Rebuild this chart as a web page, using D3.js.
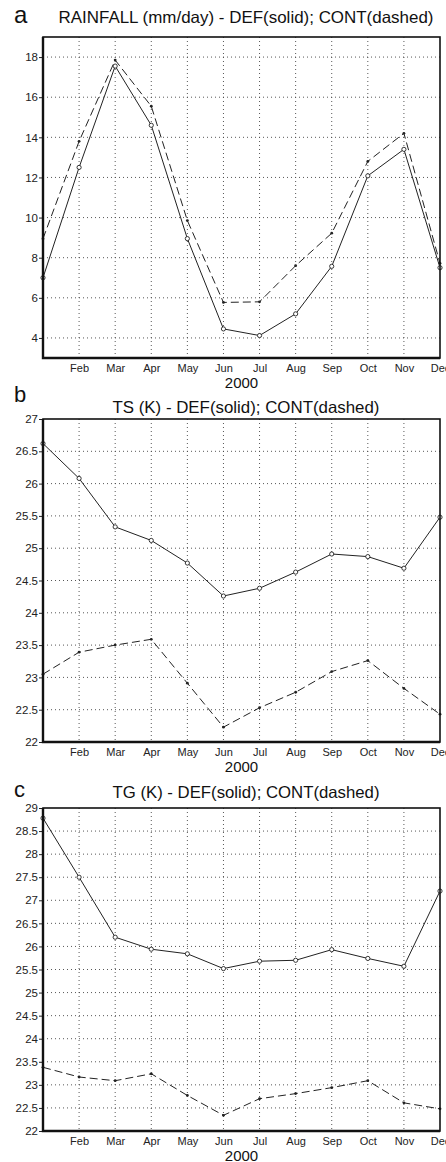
<!DOCTYPE html>
<html>
<head>
<meta charset="utf-8">
<script src="https://cdn.jsdelivr.net/npm/d3@7"></script>
<style>
  body { margin: 0; background: #fff; }
  svg { display: block; font-family: "Liberation Sans", Arial, sans-serif; }
</style>
</head>
<body>
<div id="chart"></div>
<script>
// monthly means, year 2000
const months = ["Jan", "Feb", "Mar", "Apr", "May", "Jun", "Jul", "Aug", "Sep", "Oct", "Nov", "Dec"];

const rainDef  = [7.0, 12.5, 17.55, 14.6, 8.95, 4.45, 4.12, 5.2, 7.57, 12.08, 13.4, 7.5];
const rainCont = [8.95, 13.8, 17.85, 15.55, 9.85, 5.77, 5.8, 7.6, 9.22, 12.8, 14.2, 7.72];
const rainTicks = [4, 6, 8, 10, 12, 14, 16, 18];

const tsDef  = [26.62, 26.08, 25.33, 25.12, 24.77, 24.26, 24.38, 24.63, 24.91, 24.87, 24.69, 25.48];
const tsCont = [23.05, 23.39, 23.5, 23.59, 22.91, 22.23, 22.53, 22.77, 23.09, 23.26, 22.83, 22.43];
const tsTicks = [22, 22.5, 23, 23.5, 24, 24.5, 25, 25.5, 26, 26.5, 27];

const tgDef  = [28.78, 27.5, 26.2, 25.94, 25.84, 25.52, 25.68, 25.7, 25.93, 25.74, 25.57, 27.2];
const tgCont = [23.38, 23.17, 23.09, 23.24, 22.77, 22.34, 22.7, 22.81, 22.94, 23.09, 22.61, 22.48];
const tgTicks = [22, 22.5, 23, 23.5, 24, 24.5, 25, 25.5, 26, 26.5, 27, 27.5, 28, 28.5, 29];

const panels = [
  {letter: "a", title: "RAINFALL (mm/day) - DEF(solid); CONT(dashed)", def: rainDef, cont: rainCont,
   ticks: rainTicks, domain: [3, 19], top: 37, bottom: 358, titleY: 23, titleW: 375, letterY: 23, letterSize: 24},
  {letter: "b", title: "TS (K) - DEF(solid); CONT(dashed)", def: tsDef, cont: tsCont,
   ticks: tsTicks, domain: [22, 27], top: 419, bottom: 742, titleY: 413, titleW: 267, letterY: 402, letterSize: 22},
  {letter: "c", title: "TG (K) - DEF(solid); CONT(dashed)", def: tgDef, cont: tgCont,
   ticks: tgTicks, domain: [22, 29], top: 808, bottom: 1131, titleY: 798, titleW: 267, letterY: 797, letterSize: 22}
];

var width = 446,
    height = 1162,
    left = 43,
    right = 440;

var svg = d3.select("#chart")
    .append("svg")
    .attr("width", width)
    .attr("height", height);

var x = d3.scalePoint()
    .domain(months)
    .range([left, right]);

var fmt = d3.format("~g");

panels.forEach(function(p) {
  var y = d3.scaleLinear()
      .domain(p.domain)
      .range([p.bottom, p.top]);

  var g = svg.append("g");

  // grid
  g.selectAll(".vgrid")
    .data(months.slice(1, 11))
    .enter().append("line")
      .attr("x1", d => x(d)).attr("x2", d => x(d))
      .attr("y1", p.top).attr("y2", p.bottom)
      .attr("stroke", "#444").attr("stroke-width", 0.9)
      .attr("stroke-dasharray", "1,3");

  g.selectAll(".hgrid")
    .data(p.ticks.filter(t => t > p.domain[0] && t < p.domain[1]))
    .enter().append("line")
      .attr("x1", left).attr("x2", right)
      .attr("y1", d => y(d)).attr("y2", d => y(d))
      .attr("stroke", "#444").attr("stroke-width", 0.9)
      .attr("stroke-dasharray", "1,3");

  // axes
  var ya = g.append("g")
      .attr("transform", "translate(" + left + ",0)")
      .call(d3.axisLeft(y).tickValues(p.ticks).tickSize(4).tickPadding(1).tickFormat(fmt));
  ya.select(".domain").remove();
  ya.selectAll("text").attr("font-size", 11.5).attr("fill", "#222").attr("font-family", null);
  ya.selectAll("line").attr("stroke", "#222");

  var xa = g.append("g")
      .attr("transform", "translate(0," + p.bottom + ")")
      .call(d3.axisBottom(x).tickValues(months.slice(1)).tickSize(0).tickPadding(6));
  xa.select(".domain").remove();
  xa.selectAll("text").attr("font-size", 11).attr("fill", "#222").attr("font-family", null);

  g.append("text")
    .attr("x", (left + right) / 2)
    .attr("y", p.bottom + 30)
    .attr("text-anchor", "middle")
    .attr("font-size", 15)
    .attr("fill", "#111")
    .text("2000");

  // lines
  var line = d3.line()
      .x((d, i) => x(months[i]))
      .y(d => y(d));

  g.append("path")
    .datum(p.cont)
    .attr("d", line)
    .attr("fill", "none")
    .attr("stroke", "#222")
    .attr("stroke-width", 1)
    .attr("stroke-dasharray", "8,4");

  g.append("path")
    .datum(p.def)
    .attr("d", line)
    .attr("fill", "none")
    .attr("stroke", "#222")
    .attr("stroke-width", 1);

  g.selectAll(".contDot")
    .data(p.cont)
    .enter().append("circle")
      .attr("cx", (d, i) => x(months[i]))
      .attr("cy", d => y(d))
      .attr("r", 1.4)
      .attr("fill", "#222");

  g.selectAll(".defDot")
    .data(p.def)
    .enter().append("circle")
      .attr("cx", (d, i) => x(months[i]))
      .attr("cy", d => y(d))
      .attr("r", 2.1)
      .attr("fill", "#fff")
      .attr("stroke", "#222")
      .attr("stroke-width", 0.9);

  // frame, left and bottom a bit heavier like the original
  g.append("rect")
    .attr("x", left).attr("y", p.top)
    .attr("width", right - left).attr("height", p.bottom - p.top)
    .attr("fill", "none")
    .attr("stroke", "#111")
    .attr("stroke-width", 1.6);
  g.append("path")
    .attr("d", "M" + left + "," + p.top + "V" + p.bottom + "H" + right)
    .attr("fill", "none")
    .attr("stroke", "#111")
    .attr("stroke-width", 2.4);

  // titles
  g.append("text")
    .attr("x", 14)
    .attr("y", p.letterY)
    .attr("font-size", p.letterSize)
    .attr("fill", "#111")
    .text(p.letter);

  g.append("text")
    .attr("x", 246)
    .attr("y", p.titleY)
    .attr("text-anchor", "middle")
    .attr("font-size", 16.5)
    .attr("textLength", p.titleW)
    .attr("lengthAdjust", "spacingAndGlyphs")
    .attr("fill", "#111")
    .text(p.title);
});
</script>
</body>
</html>
